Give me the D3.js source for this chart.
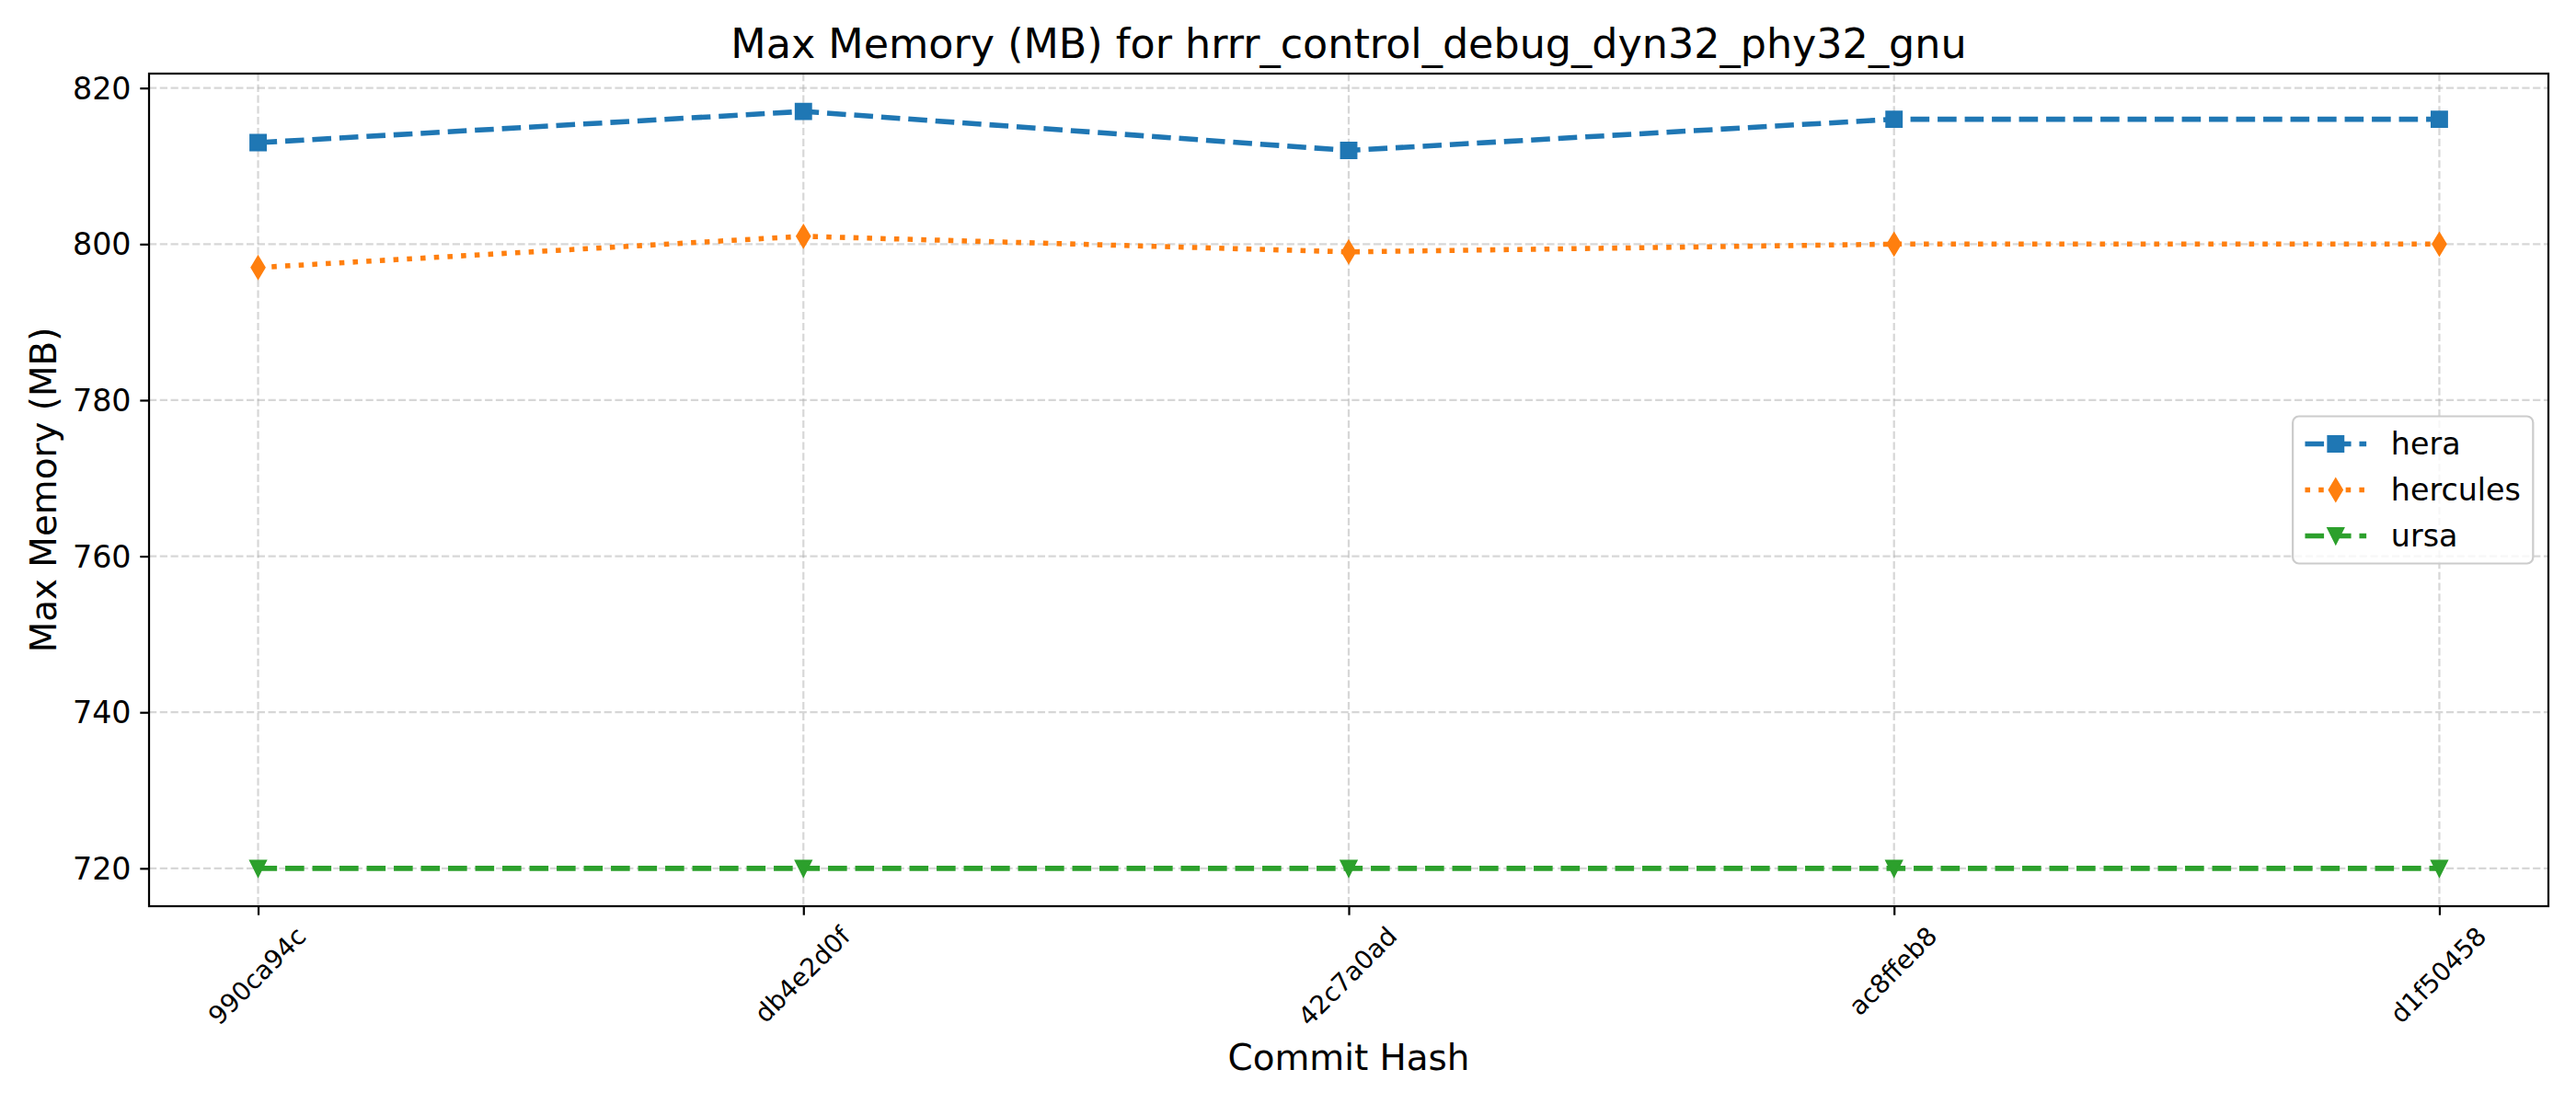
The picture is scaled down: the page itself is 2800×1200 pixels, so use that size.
<!DOCTYPE html>
<html lang="en">

<head>
    <meta charset="UTF-8">
    <title>Max Memory (MB) for hrrr_control_debug_dyn32_phy32_gnu</title>
    <script src="https://d3js.org/d3.v7.min.js"></script>
    <style>
        body {
            margin: 0;
            background: #ffffff;
        }

        svg {
            display: block;
            font-family: "DejaVu Sans", sans-serif;
        }
    </style>
</head>

<body>
    <svg class="chart"></svg>

    <script>
        // chart data
        const commits = ["990ca94c", "db4e2d0f", "42c7a0ad", "ac8ffeb8", "d1f50458"];
        const heraValues = [813, 817, 812, 816, 816];
        const herculesValues = [797, 801, 799, 800, 800];
        const ursaValues = [720, 720, 720, 720, 720];
        const yTicks = [720, 740, 760, 780, 800, 820];

        const series = [
            { name: "hera", values: heraValues, color: "#1f77b4", marker: "square", dash: "20.6 8.9" },
            { name: "hercules", values: herculesValues, color: "#ff7f0e", marker: "diamond", dash: "5.56 9.17" },
            { name: "ursa", values: ursaValues, color: "#2ca02c", marker: "triangleDown", dash: "20.6 8.9" }
        ];

        const width = 2800, height = 1200;
        const plotLeft = 162, plotRight = 2770, plotTop = 80, plotBottom = 985;
        const pt = 200 / 72; // 1pt in px at 200 dpi

        const svg = d3.select(".chart")
            .attr("width", width)
            .attr("height", height);

        svg.append("rect")
            .attr("width", width)
            .attr("height", height)
            .attr("fill", "#ffffff");

        const x = d3.scalePoint()
            .domain(commits)
            .range([plotLeft, plotRight])
            .padding(0.2);

        const allValues = series.flatMap(s => s.values);
        const yMin = d3.min(allValues), yMax = d3.max(allValues);
        const yPad = (yMax - yMin) * 0.05;
        const y = d3.scaleLinear()
            .domain([yMin - yPad, yMax + yPad])
            .range([plotBottom, plotTop]);

        // grid
        const grid = svg.append("g").attr("class", "grid");
        grid.selectAll(".gx")
            .data(commits)
            .enter()
            .append("line")
            .attr("x1", d => x(d)).attr("x2", d => x(d))
            .attr("y1", plotTop).attr("y2", plotBottom);
        grid.selectAll(".gy")
            .data(yTicks)
            .enter()
            .append("line")
            .attr("x1", plotLeft).attr("x2", plotRight)
            .attr("y1", d => y(d)).attr("y2", d => y(d));
        grid.selectAll("line")
            .attr("stroke", "#b0b0b0")
            .attr("stroke-opacity", 0.5)
            .attr("stroke-width", 0.8 * pt)
            .attr("stroke-dasharray", `${3.7 * 0.8 * pt} ${1.6 * 0.8 * pt}`);

        // marker shapes
        const ms = 6 * pt;
        function markerPath(type) {
            const h = ms / 2;
            if (type === "square") {
                return `M${-h},${-h}H${h}V${h}H${-h}Z`;
            }
            if (type === "diamond") {
                const dy = h * Math.SQRT2, dx = dy * 0.6;
                return `M0,${-dy}L${dx},0L0,${dy}L${-dx},0Z`;
            }
            return `M${-h},${-h}L${h},${-h}L0,${h}Z`;
        }

        const line = d3.line()
            .x((d, i) => x(commits[i]))
            .y(d => y(d));

        const plot = svg.append("g").attr("class", "plot");
        series.forEach(function (s) {
            const g = plot.append("g");
            g.append("path")
                .attr("d", line(s.values))
                .attr("fill", "none")
                .attr("stroke", s.color)
                .attr("stroke-width", 2 * pt)
                .attr("stroke-dasharray", s.dash);
            g.selectAll(".mk")
                .data(s.values)
                .enter()
                .append("path")
                .attr("d", markerPath(s.marker))
                .attr("transform", (d, i) => `translate(${x(commits[i])},${y(d)})`)
                .attr("fill", s.color)
                .attr("stroke", s.color)
                .attr("stroke-width", pt * 0.8);
        });

        // spines
        svg.append("rect")
            .attr("x", plotLeft)
            .attr("y", plotTop)
            .attr("width", plotRight - plotLeft)
            .attr("height", plotBottom - plotTop)
            .attr("fill", "none")
            .attr("stroke", "#000")
            .attr("stroke-width", 0.8 * pt);

        // y axis
        const yAxis = svg.append("g")
            .attr("transform", `translate(${plotLeft},0)`)
            .call(d3.axisLeft(y).tickValues(yTicks).tickSize(3.5 * pt).tickPadding(3.5 * pt));
        yAxis.select(".domain").remove();
        yAxis.selectAll(".tick line").attr("stroke", "#000").attr("stroke-width", 0.8 * pt);
        yAxis.selectAll(".tick text")
            .attr("fill", "#000")
            .attr("dy", "0.35em")
            .style("font-size", (12 * pt) + "px")
            .style("font-family", "DejaVu Sans");

        // x axis
        const xAxis = svg.append("g")
            .attr("transform", `translate(0,${plotBottom})`)
            .call(d3.axisBottom(x).tickSize(3.5 * pt).tickPadding(3.5 * pt));
        xAxis.select(".domain").remove();
        xAxis.selectAll(".tick line").attr("stroke", "#000").attr("stroke-width", 0.8 * pt);
        const xFont = 10 * pt;
        xAxis.selectAll(".tick text")
            .attr("fill", "#000")
            .style("font-size", xFont + "px")
            .style("font-family", "DejaVu Sans")
            .attr("y", null)
            .attr("dy", "0.262em")
            .attr("text-anchor", "middle")
            .attr("transform", function () {
                const w = this.getComputedTextLength();
                const h = 0.996 * xFont;
                const cy = 7 * pt + (w + h) * Math.SQRT1_2 / 2;
                return `translate(0,${cy}) rotate(-45)`;
            });

        // labels
        svg.append("text")
            .attr("x", (plotLeft + plotRight) / 2)
            .attr("y", 63.3)
            .attr("text-anchor", "middle")
            .style("font-size", (16 * pt) + "px")
            .text("Max Memory (MB) for hrrr_control_debug_dyn32_phy32_gnu");

        svg.append("text")
            .attr("x", (plotLeft + plotRight) / 2)
            .attr("y", 1162.7)
            .attr("text-anchor", "middle")
            .style("font-size", (14 * pt) + "px")
            .text("Commit Hash");

        svg.append("text")
            .attr("transform", `translate(60.8,${(plotTop + plotBottom) / 2}) rotate(-90)`)
            .attr("text-anchor", "middle")
            .style("font-size", (14 * pt) + "px")
            .text("Max Memory (MB)");

        // legend
        const fs = 12 * pt;
        const legend = svg.append("g").attr("class", "legend");
        const legendBox = legend.append("rect")
            .attr("fill", "#ffffff")
            .attr("fill-opacity", 0.8)
            .attr("stroke", "#cccccc")
            .attr("stroke-width", pt * 0.8)
            .attr("rx", 0.2 * fs)
            .attr("ry", 0.2 * fs);

        const rowGap = 1.5 * fs;
        const boxH = 2 * 0.4 * fs + series.length * fs + (series.length - 1) * 0.5 * fs;
        const boxTop = (plotTop + plotBottom) / 2 - boxH / 2;
        const items = legend.selectAll(".legend-item")
            .data(series)
            .enter()
            .append("g")
            .attr("class", "legend-item");

        const labels = items.append("text")
            .attr("dy", "0.35em")
            .style("font-size", fs + "px")
            .text(d => d.name);
        const maxW = d3.max(labels.nodes(), n => n.getComputedTextLength());
        const boxW = (0.4 + 2 + 0.8 + 0.4) * fs + maxW;
        const boxLeft = plotRight - 0.5 * fs - boxW;

        legendBox
            .attr("x", boxLeft)
            .attr("y", boxTop)
            .attr("width", boxW)
            .attr("height", boxH);

        items.attr("transform", (d, i) => `translate(${boxLeft + 0.4 * fs},${boxTop + 0.4 * fs + fs / 2 + i * rowGap})`);
        items.append("line")
            .attr("x1", 0).attr("x2", 2 * fs)
            .attr("y1", 0).attr("y2", 0)
            .attr("stroke", d => d.color)
            .attr("stroke-width", 2 * pt)
            .attr("stroke-dasharray", d => d.dash);
        items.append("path")
            .attr("d", d => markerPath(d.marker))
            .attr("transform", `translate(${fs},0)`)
            .attr("fill", d => d.color)
            .attr("stroke", d => d.color)
            .attr("stroke-width", pt * 0.8);
        labels.attr("x", 2.8 * fs).raise();
    </script>
</body>

</html>
